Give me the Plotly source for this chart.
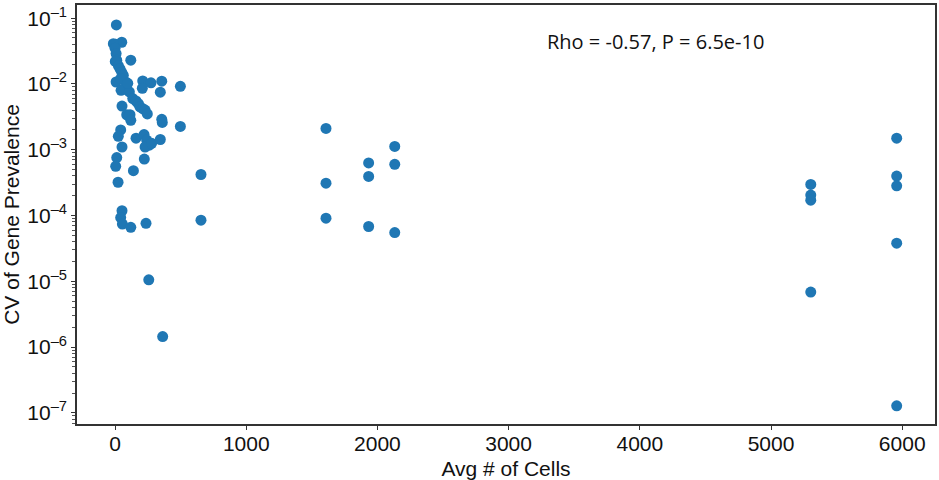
import plotly.graph_objects as go

avg_cells = [
    10, 5, 51, 120, 8, 81, 211, 274, 356, 208, 345, 46, 109,
    135, 160, 178, 190, 211, 229, 246, 53, 89, 114, 120, 356, 360,
    43, 25, 160, 221, 241, 261, 229, 279, 345, 53, 13, 223,
    5, 140, 23, 53, 43, 56, 120, 236, 257, 363,
    -13, 0, 8, 13, 2, 25, 38, 51, 63, 43, 97,
    498, 498, 655, 655,
    1608, 1608, 1608, 1933, 1933, 1933, 2132, 2132, 2132,
    5303, 5303, 5303, 5303,
    5958, 5958, 5958, 5958, 5958,
]
cv_prevalence = [
    0.079, 0.040, 0.043, 0.023, 0.0107, 0.0107, 0.0111, 0.0104, 0.011, 0.0086, 0.0075, 0.0080, 0.0076,
    0.0060, 0.0055, 0.0050, 0.0045, 0.0042, 0.0040, 0.0035, 0.0046, 0.0034, 0.0034, 0.0028, 0.0029, 0.0026,
    0.0020, 0.0016, 0.0015, 0.0017, 0.0014, 0.00117, 0.0011, 0.00125, 0.00143, 0.0011, 7.6e-4, 7.2e-4,
    5.6e-4, 4.8e-4, 3.2e-4, 1.18e-4, 9.3e-5, 7.4e-5, 6.6e-5, 7.6e-5, 1.05e-5, 1.44e-6,
    0.041, 0.035, 0.029, 0.023, 0.022, 0.019, 0.017, 0.015, 0.0135, 0.012, 0.0102,
    9.2e-3, 2.26e-3, 4.2e-4, 8.5e-5,
    2.11e-3, 3.1e-4, 9.1e-5, 6.3e-4, 3.93e-4, 6.8e-5, 1.12e-3, 6.0e-4, 5.5e-5,
    2.97e-4, 2.04e-4, 1.71e-4, 6.86e-6,
    1.5e-3, 3.98e-4, 2.83e-4, 3.8e-5, 1.28e-7,
]
x_ticks = [0, 1000, 2000, 3000, 4000, 5000, 6000]
y_tickvals = [1e-1, 1e-2, 1e-3, 1e-4, 1e-5, 1e-6, 1e-7]
y_ticktext = ["10<sup>–1</sup>", "10<sup>–2</sup>", "10<sup>–3</sup>", "10<sup>–4</sup>",
              "10<sup>–5</sup>", "10<sup>–6</sup>", "10<sup>–7</sup>"]
annotation_text = "Rho = -0.57, P = 6.5e-10"

fig = go.Figure()
fig.add_trace(go.Scatter(
    x=avg_cells, y=cv_prevalence, mode="markers",
    marker=dict(size=11, color="#1f77b4", line=dict(width=0)),
    showlegend=False,
))

tick_font = dict(family="Liberation Sans, Arial, sans-serif", size=21, color="#111")
title_font = dict(family="Liberation Sans, Arial, sans-serif", size=21, color="#111")

fig.update_layout(
    width=939, height=480,
    margin=dict(l=77, r=4, t=5, b=56),
    paper_bgcolor="white", plot_bgcolor="white",
    font=tick_font,
    xaxis=dict(
        range=[-290, 6250], tickvals=x_ticks,
        showgrid=False, zeroline=False, automargin=False,
        showline=True, linecolor="#333", linewidth=1.5, mirror=True,
        ticks="outside", ticklen=4, tickcolor="#333",
        ticklabelstandoff=-4,
        tickfont=tick_font,
        title=dict(text="Avg # of Cells", font=title_font),
    ),
    yaxis=dict(
        type="log", range=[-7.17, -0.80],
        tickvals=y_tickvals, ticktext=y_ticktext,
        showgrid=False, zeroline=False, automargin=False,
        showline=True, linecolor="#333", linewidth=1.5, mirror=True,
        ticks="outside", ticklen=4, tickcolor="#333",
        minor=dict(ticks="outside", ticklen=3, tickcolor="#555", showgrid=False, dtick="D1"),
        tickfont=tick_font,
        title=dict(text="CV of Gene Prevalence", font=title_font),
    ),
    annotations=[dict(
        text=annotation_text, xref="paper", yref="paper",
        x=0.674, y=0.912, xanchor="center", yanchor="middle", showarrow=False,
        font=dict(family="Open Sans, sans-serif", size=20, color="#111"),
    )],
)

fig.write_html("out.html", config={"displayModeBar": False},
               post_script="document.body.style.margin='0';")
